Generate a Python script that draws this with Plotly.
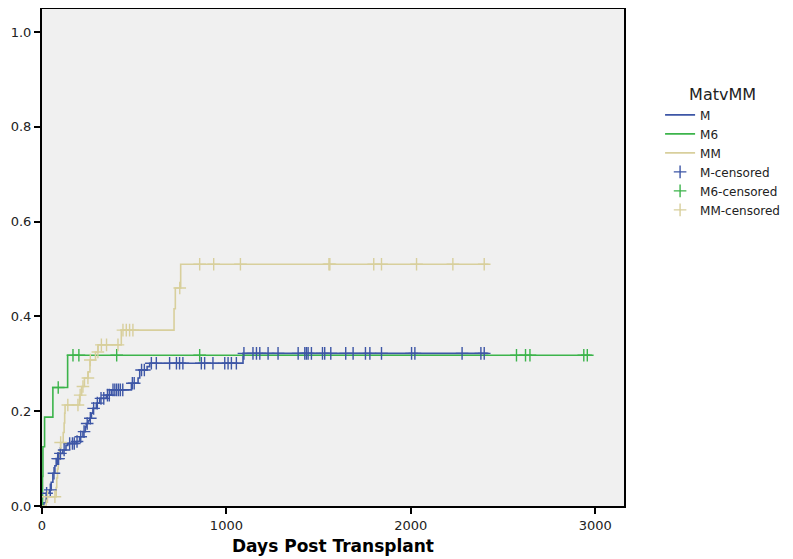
import plotly.graph_objects as go

# ---- data (days, cumulative incidence) ----
m_days = [0, 10, 20, 23, 41, 50, 59, 70, 77, 95, 113, 130, 140, 186, 204, 222, 235, 240, 250, 258,
          268, 276, 295, 313, 349, 376, 485, 521, 530, 570, 584, 1090, 2421]
m_vals = [0, 0.007, 0.014, 0.027, 0.034, 0.050, 0.069, 0.085, 0.100, 0.111, 0.118, 0.128, 0.132, 0.136,
          0.146, 0.157, 0.167, 0.174, 0.180, 0.185, 0.196, 0.206, 0.217, 0.227, 0.234, 0.245, 0.259,
          0.270, 0.287, 0.294, 0.301, 0.322, 0.322]

m6_days = [0, 3, 5, 14, 59, 139, 2982]
m6_vals = [0, 0.0625, 0.125, 0.1875, 0.25, 0.318, 0.318]

mm_days = [0, 23, 77, 80, 84, 88, 95, 101, 115, 120, 123, 125, 204, 215, 230, 250, 260, 290, 304,
           430, 716, 723, 752, 2421]
mm_vals = [0, 0.0196, 0.039, 0.059, 0.078, 0.098, 0.118, 0.134, 0.155, 0.175, 0.196, 0.213, 0.234,
           0.252, 0.270, 0.283, 0.308, 0.325, 0.340, 0.371, 0.416, 0.460, 0.510, 0.510]

m_cens_days = [25, 45, 65, 85, 90, 100, 120, 150, 165, 175, 190, 210, 228, 245, 262, 280, 300, 320,
               335, 355, 365, 385, 395, 405, 415, 425, 438, 490, 500, 540, 555, 593, 620, 692, 729,
               746, 764, 864, 882, 927, 991, 1009, 1027, 1054, 1095, 1144, 1163, 1181, 1226, 1280,
               1389, 1425, 1434, 1443, 1461, 1521, 1533, 1566, 1647, 1687, 1754, 1778, 1841, 2004,
               2022, 2278, 2380, 2398]
m6_cens_days = [88, 168, 200, 405, 855, 2573, 2622, 2646, 2938, 2957]
mm_cens_days = [30, 70, 101, 140, 195, 207, 222, 249, 262, 303, 322, 350, 412, 439, 457, 475, 493,
                747, 855, 931, 1076, 1556, 1561, 1799, 1841, 2031, 2228, 2398]

x_ticks = [0, 1000, 2000, 3000]
y_ticks = [0.0, 0.2, 0.4, 0.6, 0.8, 1.0]
y_tick_text = ["0.0", "0.2", "0.4", "0.6", "0.8", "1.0"]

BLUE = "#3D56A6"
GREEN = "#3CB44B"
TAN = "#D8CF9C"
FONT = "DejaVu Sans, Arial, sans-serif"


def step_value(days, vals, t):
    v = vals[0]
    for d, val in zip(days, vals):
        if d <= t:
            v = val
        else:
            break
    return v


fig = go.Figure()
for name, d, v, c in [("M", m_days, m_vals, BLUE), ("M6", m6_days, m6_vals, GREEN),
                      ("MM", mm_days, mm_vals, TAN)]:
    fig.add_trace(go.Scatter(x=d, y=v, mode="lines", line=dict(shape="hv", color=c, width=1.6),
                             name=name))

for name, d, v, cd, c in [("M-censored", m_days, m_vals, m_cens_days, BLUE),
                          ("M6-censored", m6_days, m6_vals, m6_cens_days, GREEN),
                          ("MM-censored", mm_days, mm_vals, mm_cens_days, TAN)]:
    fig.add_trace(go.Scatter(x=cd, y=[step_value(d, v, t) for t in cd], mode="markers",
                             marker=dict(symbol="cross-thin", size=9, line=dict(color=c, width=1.4)),
                             name=name))

# page body adds an 8px offset, so the figure is 8px smaller than the window
fig.update_layout(
    width=785, height=551,
    margin=dict(l=34, r=169, t=1, b=53, autoexpand=False),
    paper_bgcolor="white", plot_bgcolor="#F0F0F0",
    font=dict(family=FONT, size=13, color="#222222"),
    showlegend=True,
    legend=dict(x=1.062, y=0.858, xanchor="left", yanchor="top",
                title=dict(text="MatvMM", font=dict(size=16), side="top center"),
                font=dict(size=12), bgcolor="rgba(0,0,0,0)", tracegroupgap=0),
)
fig.update_xaxes(range=[0, 3156], tickvals=x_ticks, ticks="outside", ticklen=6, tickwidth=1.5,
                 tickcolor="black", showline=True, linecolor="black", linewidth=2, mirror=True,
                 showgrid=False, zeroline=False, automargin=False,
                 title=dict(text="<b>Days Post Transplant</b>", font=dict(size=17, color="black"),
                            standoff=9))
fig.update_yaxes(range=[0, 1.0485], tickvals=y_ticks, ticktext=y_tick_text, ticks="outside",
                 ticklen=6, tickwidth=1.5, tickcolor="black", showline=True, linecolor="black",
                 linewidth=2, mirror=True, showgrid=False, zeroline=False, automargin=False)

fig.write_html("out.html")
